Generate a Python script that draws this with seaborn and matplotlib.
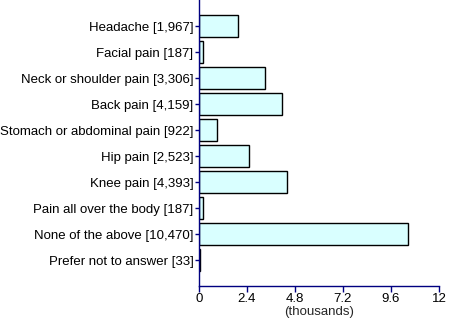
import matplotlib
matplotlib.use("Agg")
import matplotlib.pyplot as plt
import seaborn as sns
import pandas as pd

categories = ["Headache [1,967]", "Facial pain [187]", "Neck or shoulder pain [3,306]",
              "Back pain [4,159]", "Stomach or abdominal pain [922]", "Hip pain [2,523]",
              "Knee pain [4,393]", "Pain all over the body [187]", "None of the above [10,470]",
              "Prefer not to answer [33]"]
counts = [1967, 187, 3306, 4159, 922, 2523, 4393, 187, 10470, 33]
xticks = [0, 2.4, 4.8, 7.2, 9.6, 12]
xticklabels = ["0", "2.4", "4.8", "7.2", "9.6", "12"]

sns.set_style("white")
plt.rcParams['font.family'] = ['Liberation Sans', 'DejaVu Sans']

df = pd.DataFrame({"cat": categories, "val": [c / 1000 for c in counts]})

fig = plt.figure(figsize=(4.5, 3.2), dpi=100)
ax = fig.add_axes([199/450, 34/320, 240/450, 286/320])
sns.barplot(data=df, x="val", y="cat", orient="h", color="#D9FFFF",
            edgecolor="black", linewidth=1.0, width=0.85, saturation=1, ax=ax)
ax.set_xlim(0, 12)
ax.set_ylim(10, -1)
ax.set_xticks(xticks)
ax.set_xticklabels(xticklabels)
ax.set_xlabel("(thousands)", fontsize=9.5, labelpad=1)
ax.set_ylabel("")
navy = "#000080"
for s in ["top", "right"]:
    ax.spines[s].set_visible(False)
for s in ["left", "bottom"]:
    ax.spines[s].set_color(navy)
    ax.spines[s].set_linewidth(1.0)
ax.tick_params(axis="both", which="both", direction="out", length=3, width=1,
               color=navy, labelsize=9.5, labelcolor="black", pad=1)
ax.tick_params(axis="x", bottom=True, length=4)
ax.tick_params(axis="y", left=True)
fig.savefig("out.png", dpi=100)
